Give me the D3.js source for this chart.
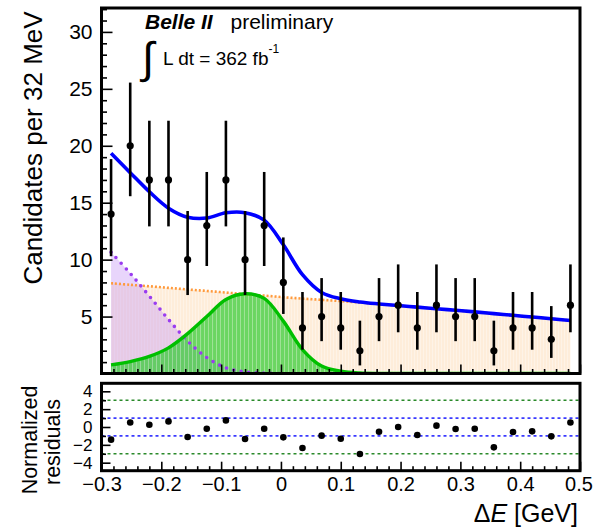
<!DOCTYPE html>
<html>
<head>
<meta charset="utf-8">
<script src="https://cdn.jsdelivr.net/npm/d3@7"></script>
<style>
  body { margin: 0; background: #fff; }
  svg { display: block; }
  text { font-family: "Liberation Sans", Arial, Helvetica, sans-serif; fill: #000; }
  .domain { display: none; }
  .tick line { stroke: #000; stroke-width: 1.6; }
</style>
</head>
<body>
<svg id="chart" width="593" height="529"></svg>
<script>
// bin centres of Delta E (GeV), 32 MeV bins
const binCenters = [-0.284, -0.252, -0.220, -0.188, -0.156, -0.124, -0.092, -0.060, -0.028, 0.004,
    0.036, 0.068, 0.100, 0.132, 0.164, 0.196, 0.228, 0.260, 0.292, 0.324,
    0.356, 0.388, 0.420, 0.452, 0.484];
const counts = [14, 20, 17, 17, 10, 13, 17, 10, 13, 8, 4, 5, 4, 2, 5, 6, 4, 6, 5, 5, 2, 4, 4, 3, 6];
const errLow = [10.30, 15.57, 12.92, 12.92, 6.89, 9.44, 12.92, 6.89, 9.44, 5.23, 2.09, 2.84, 2.09, 0.71, 2.84,
    3.62, 2.09, 3.62, 2.84, 2.84, 0.71, 2.09, 2.09, 1.37, 3.62];
const errHigh = [18.83, 25.55, 22.20, 22.20, 14.27, 17.70, 22.20, 14.27, 17.70, 11.95, 7.16, 8.38, 7.16, 4.64, 8.38,
    9.58, 7.16, 9.58, 8.38, 8.38, 4.64, 7.16, 7.16, 5.92, 9.58];
const residuals = [-1.42, 0.51, 0.26, 0.63, -1.12, -0.19, 0.74, -1.34, -0.19, -1.16, -2.35, -0.97, -1.31, -3.02, -0.53,
    0.0, -0.9, 0.15, -0.22, -0.19, -2.28, -0.56, -0.49, -1.05, 0.51];

// fit components sampled at the bin centres
const continuum = [7.93, 7.79, 7.66, 7.52, 7.38, 7.25, 7.11, 6.97, 6.84, 6.70, 6.58, 6.47, 6.36, 6.24, 6.11,
    5.97, 5.83, 5.69, 5.55, 5.41, 5.26, 5.11, 4.96, 4.81, 4.65];
const peaking = [10.65, 8.8, 6.8, 4.75, 2.85, 1.4, 0.5, 0.15, 0.03, 0, 0, 0, 0, 0, 0, 0, 0, 0, 0, 0, 0, 0, 0, 0, 0];
const signal = [0.76, 1.05, 1.5, 2.25, 3.5, 5.0, 6.5, 7.0, 6.6, 4.6, 2.1, 0.65, 0.2, 0.04, 0, 0, 0, 0, 0, 0, 0, 0, 0, 0, 0];

const mainYTicks = [5, 10, 15, 20, 25, 30];
const resYTicks = [-4, -2, 0, 2, 4];
const xTicks = [-0.3, -0.2, -0.1, 0, 0.1, 0.2, 0.3, 0.4, 0.5];
const xTickLabels = ["\u22120.3", "\u22120.2", "\u22120.1", "0", "0.1", "0.2", "0.3", "0.4", "0.5"];

const svg = d3.select("#chart");
const left = 101.5, right = 580;
const mainTop = 8, mainBottom = 373.5;
const resTop = 383.3, resBottom = 470.7;

const x = d3.scaleLinear().domain([-0.3, 0.5]).range([left, right]);
const y = d3.scaleLinear().domain([0, 32.1]).range([mainBottom, mainTop]);
const yr = d3.scaleLinear().domain([-4.9, 4.9]).range([resBottom, resTop]);

const total = binCenters.map((d, i) => continuum[i] + peaking[i] + signal[i]);
const curve = d3.curveCatmullRom.alpha(0.5);

function area(vals) {
    return d3.area().curve(curve)
        .x((d, i) => x(binCenters[i]))
        .y0(y(0))
        .y1(d => y(Math.max(0, d)))(vals);
}
function line(vals) {
    return d3.line().curve(curve)
        .x((d, i) => x(binCenters[i]))
        .y(d => y(Math.max(0, d)))(vals);
}

svg.append("clipPath").attr("id", "mainClip")
    .append("rect").attr("x", left).attr("y", mainTop).attr("width", right - left).attr("height", mainBottom - mainTop);

// light hatch textures like the ROOT fill styles
const defs = svg.append("defs");
function stripes(id, color, w) {
    const p = defs.append("pattern").attr("id", id).attr("patternUnits", "userSpaceOnUse")
        .attr("width", w).attr("height", w);
    p.append("rect").attr("width", w).attr("height", w).attr("fill", color);
    p.append("rect").attr("width", 1).attr("height", w).attr("fill", "#fff").attr("fill-opacity", 0.35);
}
stripes("orangeFill", "#fcd6ad", 3);
stripes("greenFill", "#2ecb2e", 4);

const plot = svg.append("g").attr("clip-path", "url(#mainClip)");

// fills
plot.append("path").attr("d", area(continuum)).attr("fill", "url(#orangeFill)").attr("fill-opacity", 0.45);
plot.append("path").attr("d", area(peaking)).attr("fill", "#c597f4").attr("fill-opacity", 0.4);
plot.append("path").attr("d", area(signal)).attr("fill", "url(#greenFill)").attr("fill-opacity", 0.7);

// component lines
plot.append("path").attr("d", line(continuum)).attr("fill", "none")
    .attr("stroke", "#ff9a3c").attr("stroke-width", 2.6).attr("stroke-dasharray", "2 2");
const lastPeak = peaking.findIndex(v => v === 0) + 1;
plot.append("path").attr("d", line(peaking.slice(0, lastPeak))).attr("fill", "none")
    .attr("stroke", "#9a3cf0").attr("stroke-width", 3.6).attr("stroke-linecap", "round")
    .attr("stroke-dasharray", "0 7.5");
plot.append("path").attr("d", line(signal)).attr("fill", "none")
    .attr("stroke", "#00bf00").attr("stroke-width", 3.4);
plot.append("path").attr("d", line(total)).attr("fill", "none")
    .attr("stroke", "#0000ff").attr("stroke-width", 3.6);

// data points with Poisson errors
const pts = svg.append("g").selectAll("g").data(counts).join("g");
pts.append("line")
    .attr("x1", (d, i) => x(binCenters[i])).attr("x2", (d, i) => x(binCenters[i]))
    .attr("y1", (d, i) => y(errLow[i])).attr("y2", (d, i) => y(errHigh[i]))
    .attr("stroke", "#000").attr("stroke-width", 2.6);
pts.append("circle")
    .attr("cx", (d, i) => x(binCenters[i])).attr("cy", d => y(d))
    .attr("r", 3.6).attr("fill", "#000");

// residual panel reference lines
[[3, "#2a8a2a"], [-3, "#2a8a2a"], [1, "#3a3aff"], [-1, "#3a3aff"]].forEach(([v, c]) => {
    svg.append("line").attr("x1", left).attr("x2", right).attr("y1", yr(v)).attr("y2", yr(v))
        .attr("stroke", c).attr("stroke-width", 1.6).attr("stroke-dasharray", "3 3");
});
svg.append("g").selectAll("circle").data(residuals).join("circle")
    .attr("cx", (d, i) => x(binCenters[i])).attr("cy", d => yr(d))
    .attr("r", 3.3).attr("fill", "#000");

// axes (ticks pointing inside the frames)
const minorY = d3.range(1, 33).filter(v => v % 5 !== 0);
svg.append("g").attr("transform", `translate(${left},0)`)
    .call(d3.axisLeft(y).tickValues(minorY).tickSize(-5.5).tickFormat(""));
svg.append("g").attr("transform", `translate(${left},0)`)
    .call(d3.axisLeft(y).tickValues(mainYTicks).tickSize(-11).tickPadding(9))
    .selectAll("text").style("font-size", "21px");

const minorX = d3.range(-0.28, 0.5, 0.02).filter(v => Math.abs(Math.round(v * 10) - v * 10) > 1e-6);
[mainBottom, resBottom].forEach(yy => {
    svg.append("g").attr("transform", `translate(0,${yy})`)
        .call(d3.axisBottom(x).tickValues(minorX).tickSize(-4.5).tickFormat(""));
});
svg.append("g").attr("transform", `translate(0,${mainBottom})`)
    .call(d3.axisBottom(x).tickValues(xTicks).tickSize(-9).tickFormat(""));
const xLab = svg.append("g").attr("transform", `translate(0,${resBottom})`)
    .call(d3.axisBottom(x).tickValues(xTicks).tickSize(-9).tickPadding(6)
        .tickFormat((d, i) => xTickLabels[i]));
xLab.selectAll("text").style("font-size", "20px");
xLab.selectAll("text").filter(d => d === 0.5).attr("dx", -1.5);

svg.append("g").attr("transform", `translate(${left},0)`)
    .call(d3.axisLeft(yr).tickValues([-3, -1, 1, 3]).tickSize(-4.5).tickFormat(""));
svg.append("g").attr("transform", `translate(${left},0)`)
    .call(d3.axisLeft(yr).tickValues(resYTicks).tickSize(-9).tickPadding(9)
        .tickFormat(d => d < 0 ? "\u2212" + Math.abs(d) : d))
    .selectAll("text").style("font-size", "17px");

// frames
svg.append("rect").attr("x", left).attr("y", mainTop).attr("width", right - left).attr("height", mainBottom - mainTop)
    .attr("fill", "none").attr("stroke", "#000").attr("stroke-width", 3);
svg.append("rect").attr("x", left).attr("y", resTop).attr("width", right - left).attr("height", resBottom - resTop)
    .attr("fill", "none").attr("stroke", "#000").attr("stroke-width", 3);

// labels
svg.append("text").attr("x", 145).attr("y", 28.5).style("font-size", "21px")
    .style("font-weight", "bold").style("font-style", "italic").text("Belle II");
svg.append("text").attr("x", 230.5).attr("y", 28.5).style("font-size", "21px").text("preliminary");
svg.append("text").attr("x", 142).attr("y", 73).style("font-size", "44px").text("\u222B");
const lum = svg.append("text").attr("x", 163).attr("y", 65).style("font-size", "19px");
lum.append("tspan").text("L dt = 362 fb");
lum.append("tspan").attr("dy", -12).style("font-size", "12px").text("-1");

svg.append("text").attr("transform", "translate(42,148) rotate(-90)")
    .attr("text-anchor", "middle").style("font-size", "26px").text("Candidates per 32 MeV");
svg.append("text").attr("transform", "translate(37,440) rotate(-90)")
    .attr("text-anchor", "middle").style("font-size", "21.5px").text("Normalized");
svg.append("text").attr("transform", "translate(60,442) rotate(-90)")
    .attr("text-anchor", "middle").style("font-size", "21.5px").text("residuals");

const xt = svg.append("text").attr("x", 578).attr("y", 522).attr("text-anchor", "end").style("font-size", "25px");
xt.append("tspan").text("\u0394");
xt.append("tspan").style("font-style", "italic").text("E");
xt.append("tspan").text(" [GeV]");
</script>
</body>
</html>
